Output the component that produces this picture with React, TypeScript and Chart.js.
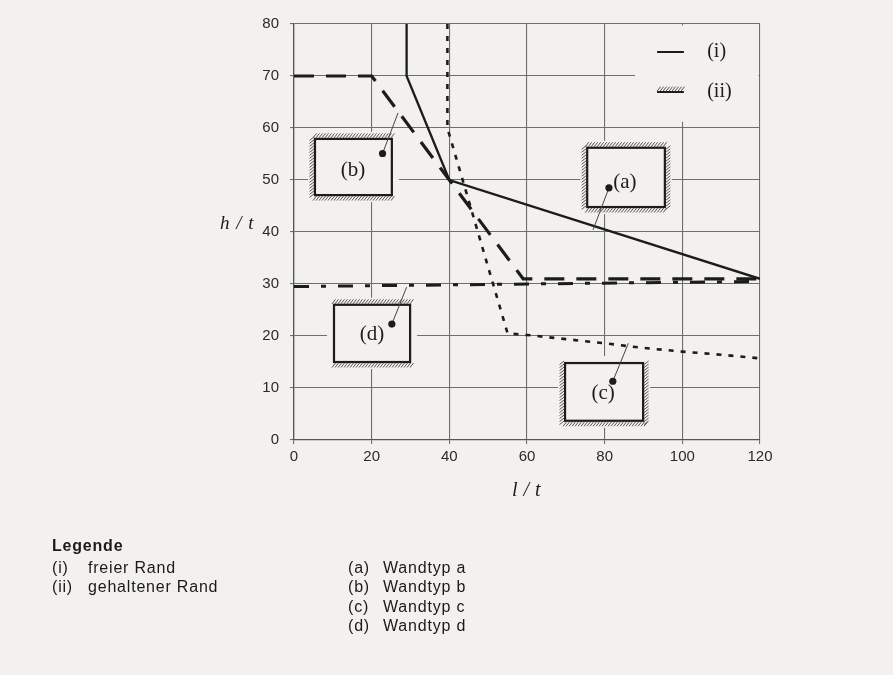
import React, { useEffect, useRef } from "react";
import { Chart, registerables } from "chart.js";

Chart.register(...registerables);

// ---- data ----
const xTicks = [0, 20, 40, 60, 80, 100, 120];
const yTicks = [0, 10, 20, 30, 40, 50, 60, 70, 80];

const wallA_x = [29, 29, 40, 120];
const wallA_y = [80, 70, 50, 31];

const wallB_x = [0, 20, 40, 59, 120];
const wallB_y = [70, 70, 50, 31, 31];

const wallC_x = [39.5, 39.5, 55, 60, 70, 80, 90, 100, 110, 120];
const wallC_y = [80, 60, 20.5, 20.2, 19.4, 18.6, 17.7, 17.0, 16.4, 15.7];

const wallD_x = [0, 120];
const wallD_y = [29.5, 30.5];

const boxLabels = ["(a)", "(b)", "(c)", "(d)"];
const edgeLabels = ["(i)", "(ii)"];
const legendTitle = "Legende";
const edgeNames = ["freier Rand", "gehaltener Rand"];
const wallNames = ["Wandtyp a", "Wandtyp b", "Wandtyp c", "Wandtyp d"];

// ---- annotation layout (data units) ----
const boxes = [
  { label: 0, x1: 75.5, x2: 95.5, y1: 44.8, y2: 56.2, hatch: ["top", "left", "right", "bottom"], lx: 85.2, ly: 49.6, dot: [81.1, 48.5], lead: [77, 40.4] },
  { label: 1, x1: 5.4, x2: 25.2, y1: 47.1, y2: 57.9, hatch: ["top", "left", "bottom"], lx: 15.2, ly: 51.9, dot: [22.8, 55.1], lead: [26.8, 62.9] },
  { label: 2, x1: 69.8, x2: 89.9, y1: 3.7, y2: 14.8, hatch: ["left", "right", "bottom"], lx: 79.6, ly: 9.0, dot: [82.1, 11.3], lead: [86.1, 18.6] },
  { label: 3, x1: 10.3, x2: 29.9, y1: 15, y2: 26, hatch: ["top", "bottom"], lx: 20.1, ly: 20.2, dot: [25.2, 22.3], lead: [29.0, 29.4] },
];
const legendArea = { x1: 87.8, x2: 119.6, y1: 61.2, y2: 79.7 };
const legendItems = { lineX1: 93.5, lineX2: 100.4, textX: 106.4, y: [74.6, 66.9] };

const BG = "#f3f1ee";
const INK = "#1c1c1c";

function zip(xs: number[], ys: number[]) {
  return xs.map((v, i) => ({ x: v, y: ys[i] }));
}

function hatchH(ctx: CanvasRenderingContext2D, x1: number, x2: number, y: number, up: boolean) {
  ctx.beginPath();
  for (let x = x1 - 2; x <= x2 + 1; x += 3) {
    if (up) {
      ctx.moveTo(x, y - 1);
      ctx.lineTo(x + 3.5, y - 5.5);
    } else {
      ctx.moveTo(x, y + 5.5);
      ctx.lineTo(x + 3.5, y + 1);
    }
  }
  ctx.stroke();
}

function hatchV(ctx: CanvasRenderingContext2D, x: number, y1: number, y2: number, left: boolean) {
  ctx.beginPath();
  for (let y = y1 - 2; y <= y2 + 1; y += 3) {
    if (left) {
      ctx.moveTo(x - 5.5, y + 3.5);
      ctx.lineTo(x - 1, y);
    } else {
      ctx.moveTo(x + 1, y + 3.5);
      ctx.lineTo(x + 5.5, y);
    }
  }
  ctx.stroke();
}

const annotationPlugin = {
  id: "wallAnnotations",
  beforeDatasetsDraw(chart: any) {
    const { ctx } = chart;
    const xs = chart.scales.x;
    const ys = chart.scales.y;
    ctx.save();
    ctx.fillStyle = BG;
    const lx1 = xs.getPixelForValue(legendArea.x1);
    const lx2 = xs.getPixelForValue(legendArea.x2);
    const ly1 = ys.getPixelForValue(legendArea.y2);
    const ly2 = ys.getPixelForValue(legendArea.y1);
    ctx.fillRect(lx1, ly1, lx2 - lx1, ly2 - ly1);
    for (const b of boxes) {
      const l = xs.getPixelForValue(b.x1);
      const r = xs.getPixelForValue(b.x2);
      const t = ys.getPixelForValue(b.y2);
      const bt = ys.getPixelForValue(b.y1);
      ctx.fillRect(l - 7, t - 7, r - l + 14, bt - t + 14);
    }
    ctx.restore();
  },
  afterDatasetsDraw(chart: any) {
    const { ctx } = chart;
    const xs = chart.scales.x;
    const ys = chart.scales.y;
    ctx.save();
    for (const b of boxes) {
      const l = xs.getPixelForValue(b.x1);
      const r = xs.getPixelForValue(b.x2);
      const t = ys.getPixelForValue(b.y2);
      const bt = ys.getPixelForValue(b.y1);
      // hatching
      ctx.strokeStyle = "#555";
      ctx.lineWidth = 1;
      if (b.hatch.includes("top")) hatchH(ctx, l, r, t, true);
      if (b.hatch.includes("bottom")) hatchH(ctx, l, r, bt, false);
      if (b.hatch.includes("left")) hatchV(ctx, l, t, bt, true);
      if (b.hatch.includes("right")) hatchV(ctx, r, t, bt, false);
      // box
      ctx.strokeStyle = INK;
      ctx.lineWidth = 2.2;
      ctx.strokeRect(l, t, r - l, bt - t);
      // label
      ctx.fillStyle = INK;
      ctx.font = "21px 'Liberation Serif'";
      ctx.textAlign = "center";
      ctx.textBaseline = "middle";
      ctx.fillText(boxLabels[b.label], xs.getPixelForValue(b.lx), ys.getPixelForValue(b.ly));
      // leader
      const dx = xs.getPixelForValue(b.dot[0]);
      const dy = ys.getPixelForValue(b.dot[1]);
      ctx.strokeStyle = "#444";
      ctx.lineWidth = 1;
      ctx.beginPath();
      ctx.moveTo(dx, dy);
      ctx.lineTo(xs.getPixelForValue(b.lead[0]), ys.getPixelForValue(b.lead[1]));
      ctx.stroke();
      ctx.beginPath();
      ctx.arc(dx, dy, 3.6, 0, Math.PI * 2);
      ctx.fill();
    }
    // legend items
    const x1 = xs.getPixelForValue(legendItems.lineX1);
    const x2 = xs.getPixelForValue(legendItems.lineX2);
    const tx = xs.getPixelForValue(legendItems.textX);
    const y1 = ys.getPixelForValue(legendItems.y[0]);
    const y2 = ys.getPixelForValue(legendItems.y[1]);
    ctx.strokeStyle = INK;
    ctx.lineWidth = 2;
    ctx.beginPath();
    ctx.moveTo(x1, y1);
    ctx.lineTo(x2, y1);
    ctx.moveTo(x1, y2);
    ctx.lineTo(x2, y2);
    ctx.stroke();
    ctx.strokeStyle = "#555";
    ctx.lineWidth = 1;
    hatchH(ctx, x1 + 2, x2 - 2, y2, true);
    ctx.fillStyle = INK;
    ctx.font = "20px 'Liberation Serif'";
    ctx.textAlign = "left";
    ctx.textBaseline = "middle";
    ctx.fillText(edgeLabels[0], tx, y1);
    ctx.fillText(edgeLabels[1], tx, y2);
    ctx.restore();
  },
};

const sans = "'Liberation Sans', Arial, sans-serif";
const serif = "'Liberation Serif', 'Times New Roman', serif";

function Txt(props: { left: number; baseline: number; children: any; bold?: boolean }) {
  return (
    <div
      style={{
        position: "absolute",
        left: props.left,
        top: props.baseline - 13.3,
        fontFamily: sans,
        fontSize: 16,
        lineHeight: "16px",
        letterSpacing: "0.8px",
        fontWeight: props.bold ? 700 : 400,
        color: "#1a1a1a",
        whiteSpace: "nowrap",
      }}
    >
      {props.children}
    </div>
  );
}

export default function App() {
  const ref = useRef<HTMLCanvasElement>(null);

  useEffect(() => {
    document.body.style.margin = "0";
    document.body.style.background = BG;
    const canvas = ref.current!;
    const gridColor = "#6e6e6e";
    const chart = new Chart(canvas, {
      type: "line",
      data: {
        datasets: [
          { label: boxLabels[0], data: zip(wallA_x, wallA_y), borderColor: INK, borderWidth: 2.3, pointRadius: 0, fill: false, tension: 0 },
          { label: boxLabels[1], data: zip(wallB_x, wallB_y), borderColor: INK, borderWidth: 3.2, borderDash: [20, 12], pointRadius: 0, fill: false, tension: 0 },
          { label: boxLabels[2], data: zip(wallC_x, wallC_y), borderColor: INK, borderWidth: 2.6, borderDash: [5, 7], pointRadius: 0, fill: false, tension: 0 },
          { label: boxLabels[3], data: zip(wallD_x, wallD_y), borderColor: INK, borderWidth: 3, borderDash: [15, 12, 5, 12], pointRadius: 0, fill: false, tension: 0 },
        ],
      },
      options: {
        responsive: false,
        animation: false,
        devicePixelRatio: 1,
        layout: { padding: { left: 244, right: 133, top: 24, bottom: 195 } },
        plugins: { legend: { display: false }, tooltip: { enabled: false } },
        scales: {
          x: {
            type: "linear",
            min: 0,
            max: 120,
            afterBuildTicks: (s: any) => {
              s.ticks = xTicks.map((v) => ({ value: v }));
            },
            afterFit: (s: any) => {
              s.height = 40;
            },
            grid: { color: gridColor, lineWidth: 1.1, tickLength: 4 },
            border: { color: "#555", width: 1.3 },
            ticks: { padding: 4, color: "#2a2a2a", font: { family: "'Liberation Sans'", size: 15 }, maxRotation: 0 },
          },
          y: {
            type: "linear",
            min: 0,
            max: 80,
            afterBuildTicks: (s: any) => {
              s.ticks = yTicks.map((v) => ({ value: v }));
            },
            afterFit: (s: any) => {
              s.width = 50;
            },
            grid: { color: gridColor, lineWidth: 1.1, tickLength: 4 },
            border: { color: "#555", width: 1.3 },
            ticks: { padding: 11, color: "#2a2a2a", font: { family: "'Liberation Sans'", size: 15 } },
          },
        },
      },
      plugins: [annotationPlugin],
    } as any);
    return () => chart.destroy();
  }, []);

  return (
    <div style={{ position: "fixed", left: 0, top: 0, width: 893, height: 675, background: BG, overflow: "hidden" }}>
      <canvas ref={ref} width={893} height={675} style={{ position: "absolute", left: 0, top: 0, width: 893, height: 675 }} />
      <div style={{ position: "absolute", left: 220, top: 229 - 15.9, fontFamily: serif, fontStyle: "italic", fontSize: 19, lineHeight: "19px", letterSpacing: "1px", color: "#1a1a1a", whiteSpace: "nowrap" }}>
        h / t
      </div>
      <div style={{ position: "absolute", left: 512, top: 496 - 16.7, fontFamily: serif, fontStyle: "italic", fontSize: 20, lineHeight: "20px", letterSpacing: "0.5px", color: "#1a1a1a", whiteSpace: "nowrap" }}>
        l / t
      </div>
      <Txt left={52} baseline={551} bold>{legendTitle}</Txt>
      <Txt left={52} baseline={573}>{edgeLabels[0]}</Txt>
      <Txt left={88} baseline={573}>{edgeNames[0]}</Txt>
      <Txt left={52} baseline={592}>{edgeLabels[1]}</Txt>
      <Txt left={88} baseline={592}>{edgeNames[1]}</Txt>
      {wallNames.map((n, i) => (
        <React.Fragment key={n}>
          <Txt left={348} baseline={573 + i * 19.4}>{boxLabels[i]}</Txt>
          <Txt left={383} baseline={573 + i * 19.4}>{n}</Txt>
        </React.Fragment>
      ))}
    </div>
  );
}
